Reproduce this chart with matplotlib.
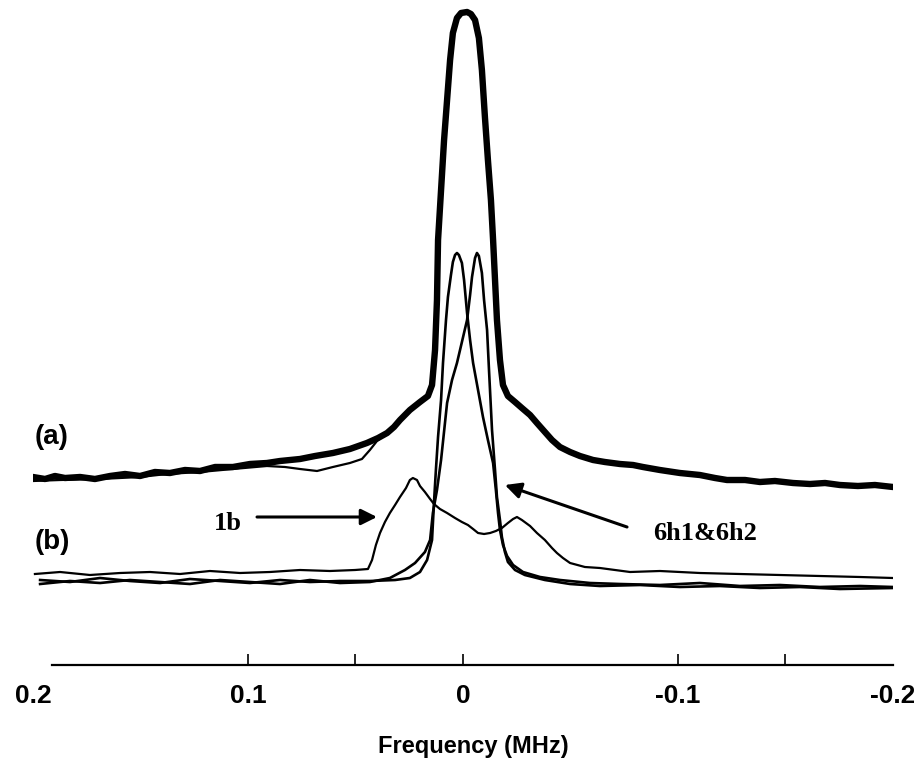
import matplotlib.pyplot as plt

# (a) spectrum, thick trace (frequency in MHz, intensity in arbitrary units incl. offset)
freq_a = [0.2000, 0.1944, 0.1898, 0.1851, 0.1781, 0.1712, 0.1642, 0.1572, 0.1502, 0.1433,
          0.1363, 0.1293, 0.1223, 0.1153, 0.1070, 0.0991, 0.0912, 0.0851, 0.0758, 0.0688,
          0.0605, 0.0526, 0.0447, 0.0395, 0.0353, 0.0321, 0.0293, 0.0247, 0.0200, 0.0163,
          0.0144, 0.0130, 0.0121, 0.0116, 0.0102, 0.0088, 0.0074, 0.0060, 0.0047, 0.0028,
          0.0009, -0.0019, -0.0037, -0.0056, -0.0074, -0.0088, -0.0102, -0.0116, -0.0130, -0.0140,
          -0.0149, -0.0158, -0.0172, -0.0186, -0.0209, -0.0242, -0.0274, -0.0312, -0.0344, -0.0381,
          -0.0414, -0.0451, -0.0498, -0.0544, -0.0605, -0.0660, -0.0730, -0.0791, -0.0837, -0.0916,
          -0.1009, -0.1102, -0.1172, -0.1228, -0.1312, -0.1381, -0.1451, -0.1535, -0.1614, -0.1684,
          -0.1753, -0.1837, -0.1916, -0.2000]
int_a = [188, 186, 189, 187, 188, 186, 189, 191, 189, 193,
         192, 195, 194, 198, 198, 201, 202, 204, 206, 209,
         212, 216, 222, 227, 232, 238, 245, 255, 263, 269,
         280, 315, 365, 425, 475, 525, 565, 605, 632, 647,
         652, 653, 651, 645, 627, 595, 548, 505, 465, 425,
         385, 345, 305, 280, 269, 263, 257, 250, 242, 233,
         225, 218, 213, 209, 205, 203, 201, 200, 198, 195,
         192, 190, 187, 185, 185, 183, 184, 182, 181, 182,
         180, 179, 180, 178]

# (a) second, thinner trace (left wing, where it separates from the thick one)
freq_a2 = [0.2000, 0.1874, 0.1688, 0.1502, 0.1377, 0.1223, 0.1070, 0.0912, 0.0828, 0.0758,
           0.0679, 0.0605, 0.0526, 0.0470, 0.0433, 0.0400, 0.0353]
int_a2 = [184, 185, 186, 188, 191, 193, 196, 199, 198, 196,
          194, 198, 202, 206, 215, 224, 232]

# (b) 6h1
freq_6h1 = [0.1967, 0.1828, 0.1688, 0.1549, 0.1409, 0.1270, 0.1130, 0.0991, 0.0851, 0.0712,
            0.0572, 0.0433, 0.0316, 0.0247, 0.0200, 0.0167, 0.0144, 0.0135, 0.0126, 0.0116,
            0.0102, 0.0093, 0.0079, 0.0070, 0.0056, 0.0047, 0.0037, 0.0028, 0.0019, 0.0005,
            -0.0005, -0.0019, -0.0033, -0.0047, -0.0070, -0.0093, -0.0116, -0.0140, -0.0153, -0.0163,
            -0.0172, -0.0186, -0.0205, -0.0233, -0.0279, -0.0358, -0.0451, -0.0591, -0.0730, -0.0916,
            -0.1102, -0.1288, -0.1474, -0.1660, -0.1847, -0.2000]
int_6h1 = [85, 83, 87, 84, 82, 86, 84, 82, 85, 83,
           84, 84, 85, 87, 93, 105, 125, 162, 195, 228,
           265, 302, 345, 368, 390, 403, 410, 412, 410, 402,
           385, 352, 325, 302, 275, 248, 225, 202, 175, 152,
           135, 120, 109, 100, 93, 88, 85, 82, 81, 80,
           82, 79, 80, 78, 79, 78]

# (b) 6h2
freq_6h2 = [0.1967, 0.1828, 0.1688, 0.1549, 0.1409, 0.1270, 0.1130, 0.0991, 0.0851, 0.0712,
            0.0572, 0.0433, 0.0340, 0.0270, 0.0223, 0.0177, 0.0153, 0.0140, 0.0121, 0.0102,
            0.0074, 0.0051, 0.0028, 0.0005, -0.0019, -0.0033, -0.0042, -0.0056, -0.0065, -0.0074,
            -0.0088, -0.0098, -0.0112, -0.0121, -0.0135, -0.0149, -0.0158, -0.0172, -0.0181, -0.0195,
            -0.0209, -0.0242, -0.0288, -0.0381, -0.0498, -0.0637, -0.0823, -0.1009, -0.1195, -0.1381,
            -0.1567, -0.1753, -0.2000]
int_6h2 = [81, 84, 82, 85, 83, 81, 85, 83, 81, 85,
           82, 83, 87, 95, 102, 113, 125, 152, 175, 205,
           262, 285, 302, 323, 345, 370, 388, 407, 412, 409,
           392, 365, 335, 295, 235, 195, 168, 145, 128, 113,
           103, 95, 90, 85, 81, 79, 80, 78, 79, 77,
           78, 76, 77]

# (b) 1b
freq_1b = [0.1991, 0.1874, 0.1735, 0.1595, 0.1456, 0.1316, 0.1177, 0.1037, 0.0898, 0.0758,
           0.0619, 0.0502, 0.0442, 0.0423, 0.0405, 0.0386, 0.0363, 0.0340, 0.0316, 0.0293,
           0.0265, 0.0247, 0.0233, 0.0214, 0.0200, 0.0177, 0.0153, 0.0135, 0.0107, 0.0074,
           0.0037, 0.0005, -0.0023, -0.0047, -0.0070, -0.0098, -0.0126, -0.0153, -0.0181, -0.0209,
           -0.0233, -0.0251, -0.0274, -0.0312, -0.0344, -0.0381, -0.0414, -0.0437, -0.0465, -0.0498,
           -0.0567, -0.0637, -0.0777, -0.0916, -0.1102, -0.1288, -0.1474, -0.1660, -0.1847, -0.2000]
int_1b = [91, 93, 90, 92, 93, 91, 94, 92, 93, 95,
          94, 95, 96, 105, 120, 132, 143, 152, 160, 168,
          177, 185, 187, 185, 179, 173, 166, 161, 156, 152,
          147, 143, 140, 136, 132, 131, 132, 134, 137, 142,
          146, 148, 145, 139, 132, 125, 117, 112, 107, 102,
          98, 97, 93, 94, 92, 91, 90, 89, 88, 87]

tick_pos = [0.2, 0.1, 0, -0.1, -0.2]
tick_labels = ['0.2', '0.1', '0', '-0.1', '-0.2']
small_ticks = [0.1, 0.05, 0, -0.1, -0.15]

fig = plt.figure(figsize=(9.14, 7.6), dpi=100)
ax = fig.add_axes([0.0361, 0.125, 0.9409, 0.875])

ax.plot(freq_1b, int_1b, color='black', lw=1.6)
ax.plot(freq_6h1, int_6h1, color='black', lw=1.9)
ax.plot(freq_6h2, int_6h2, color='black', lw=1.9)
ax.plot(freq_a2, int_a2, color='black', lw=1.6)
ax.plot(freq_a, int_a, color='black', lw=4.6, solid_joinstyle='round', solid_capstyle='round')

ax.set_xlim(0.2, -0.2)
ax.set_ylim(0, 665)

for s in ['left', 'right', 'top']:
    ax.spines[s].set_visible(False)
ax.spines['bottom'].set_bounds(0.191, -0.2)
ax.spines['bottom'].set_linewidth(1.6)
ax.set_yticks([])

ax.xaxis.remove_overlapping_locs = False
ax.set_xticks(tick_pos)
ax.set_xticklabels(tick_labels, fontsize=19, fontweight='bold', family='Liberation Sans')
ax.tick_params(axis='x', which='major', length=0, pad=14)
ax.set_xticks(small_ticks, minor=True)
ax.tick_params(axis='x', which='minor', direction='in', length=8, width=1.2)

fig.text(473 / 914, 13 / 760, 'Frequency (MHz)', ha='center', va='center',
         fontsize=17, fontweight='bold', family='Liberation Sans')

ax.text(0.1912, 228, '(a)', ha='center', va='center', fontsize=20, fontweight='bold',
        family='Liberation Sans')
ax.text(0.1912, 123, '(b)', ha='center', va='center', fontsize=20, fontweight='bold',
        family='Liberation Sans')

ax.text(0.1093, 142, '1b', ha='center', va='center', fontsize=19, fontweight='bold',
        family='Liberation Serif')
ax.annotate('', xy=(0.0400, 148), xytext=(0.0958, 148),
            arrowprops=dict(arrowstyle='-|>', color='black', lw=2.2, mutation_scale=24,
                            shrinkA=0, shrinkB=0))

ax.text(-0.1126, 132, '6h1&6h2', ha='center', va='center', fontsize=19, fontweight='bold',
        family='Liberation Serif')
ax.annotate('', xy=(-0.0195, 180), xytext=(-0.0763, 138),
            arrowprops=dict(arrowstyle='-|>', color='black', lw=2.2, mutation_scale=24,
                            shrinkA=0, shrinkB=0))

fig.savefig('out.png', dpi=100)
